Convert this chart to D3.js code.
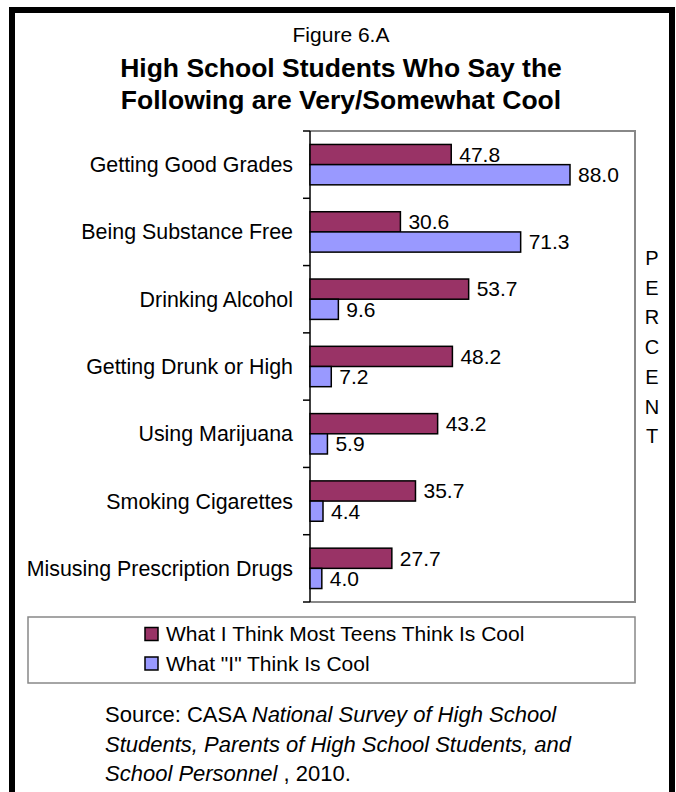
<!DOCTYPE html>
<html>
<head>
<meta charset="utf-8">
<script src="https://cdn.jsdelivr.net/npm/d3@7"></script>
<style>
  body { margin: 0; background: #fff; }
  svg text { font-family: "Liberation Sans", Arial, sans-serif; fill: #000; }
</style>
</head>
<body>
<svg width="676" height="792"></svg>
<script>
// chart data
var categories = ["Getting Good Grades", "Being Substance Free", "Drinking Alcohol",
  "Getting Drunk or High", "Using Marijuana", "Smoking Cigarettes", "Misusing Prescription Drugs"];
var seriesNames = ["What I Think Most Teens Think Is Cool", "What \"I\" Think Is Cool"];
var teensValues = [47.8, 30.6, 53.7, 48.2, 43.2, 35.7, 27.7];
var selfValues = [88.0, 71.3, 9.6, 7.2, 5.9, 4.4, 4.0];
var seriesColors = ["#993366", "#9999ff"];
var axisLetters = "PERCENT".split("");

var svg = d3.select("svg");

// outer black frame (bottom runs off the page)
svg.append("rect")
    .attr("x", 12).attr("y", 10)
    .attr("width", 660).attr("height", 800)
    .attr("fill", "none").attr("stroke", "#000").attr("stroke-width", 6);

// titles
svg.append("text")
    .attr("x", 341).attr("y", 42)
    .attr("text-anchor", "middle")
    .style("font-size", "21px")
    .text("Figure 6.A");
svg.selectAll("text.title")
    .data(["High School Students Who Say the", "Following are Very/Somewhat Cool"])
  .enter().append("text")
    .attr("class", "title")
    .attr("x", 341)
    .attr("y", function(d, i) { return 77 + i * 32; })
    .attr("text-anchor", "middle")
    .style("font-size", "26.5px")
    .style("font-weight", "bold")
    .text(function(d) { return d; });

// plot area
var plot = {left: 310, right: 635, top: 131, bottom: 602};

var x = d3.scaleLinear()
    .domain([0, 110])
    .range([plot.left, plot.right]);

var y = d3.scaleBand()
    .domain(categories)
    .range([plot.top, plot.bottom])
    .paddingInner(0.4)
    .paddingOuter(0.2);

var ySub = d3.scaleBand()
    .domain([0, 1])
    .range([0, y.bandwidth()]);

// gray frame on top, right and bottom
svg.append("path")
    .attr("d", "M" + plot.left + "," + plot.top + "H" + plot.right + "V" + plot.bottom + "H" + plot.left)
    .attr("fill", "none").attr("stroke", "#888").attr("stroke-width", 2);

// category axis with ticks between groups
var tickYs = d3.range(categories.length + 1).map(function(i) { return plot.top + i * y.step(); });
svg.append("line")
    .attr("x1", plot.left).attr("x2", plot.left)
    .attr("y1", plot.top).attr("y2", plot.bottom)
    .attr("stroke", "#000").attr("stroke-width", 1.5);
svg.selectAll("line.tick")
    .data(tickYs)
  .enter().append("line")
    .attr("class", "tick")
    .attr("x1", plot.left - 7).attr("x2", plot.left)
    .attr("y1", function(d) { return d; }).attr("y2", function(d) { return d; })
    .attr("stroke", "#000").attr("stroke-width", 1.5);

svg.selectAll("text.cat")
    .data(categories)
  .enter().append("text")
    .attr("class", "cat")
    .attr("x", 293)
    .attr("y", function(d) { return y(d) + y.bandwidth() / 2; })
    .attr("dy", "0.35em")
    .attr("text-anchor", "end")
    .style("font-size", "21.4px")
    .text(function(d) { return d; });

// bars
var rows = [];
categories.forEach(function(c, i) {
  rows.push({cat: c, s: 0, v: teensValues[i]});
  rows.push({cat: c, s: 1, v: selfValues[i]});
});

var bar = svg.selectAll("g.bar")
    .data(rows)
  .enter().append("g")
    .attr("class", "bar")
    .attr("transform", function(d) { return "translate(0," + (y(d.cat) + ySub(d.s)) + ")"; });

bar.append("rect")
    .attr("x", x(0))
    .attr("width", function(d) { return x(d.v) - x(0); })
    .attr("height", ySub.bandwidth())
    .attr("fill", function(d) { return seriesColors[d.s]; })
    .attr("stroke", "#000").attr("stroke-width", 1.5);

bar.append("text")
    .attr("x", function(d) { return x(d.v) + 8; })
    .attr("y", ySub.bandwidth() / 2)
    .attr("dy", "0.35em")
    .style("font-size", "21px")
    .text(function(d) { return d3.format(".1f")(d.v); });

// vertical axis title
svg.selectAll("text.pct")
    .data(axisLetters)
  .enter().append("text")
    .attr("class", "pct")
    .attr("x", 652)
    .attr("y", function(d, i) { return 258 + i * 29.7; })
    .attr("dy", "0.35em")
    .attr("text-anchor", "middle")
    .style("font-size", "20px")
    .text(function(d) { return d; });

// legend
svg.append("rect")
    .attr("x", 28).attr("y", 617)
    .attr("width", 607).attr("height", 66)
    .attr("fill", "none").attr("stroke", "#888").attr("stroke-width", 1.5);

var legend = svg.selectAll("g.legend")
    .data(seriesNames)
  .enter().append("g")
    .attr("class", "legend")
    .attr("transform", function(d, i) { return "translate(145," + (634 + i * 29.5) + ")"; });

legend.append("rect")
    .attr("y", -6.5)
    .attr("width", 13).attr("height", 13)
    .attr("fill", function(d, i) { return seriesColors[i]; })
    .attr("stroke", "#000").attr("stroke-width", 1.5);

legend.append("text")
    .attr("x", 21)
    .attr("dy", "0.35em")
    .style("font-size", "21px")
    .text(function(d) { return d; });

// source note
var source = svg.append("text")
    .attr("x", 105)
    .style("font-size", "22px");
source.append("tspan").attr("x", 105).attr("y", 722).text("Source: CASA ");
source.append("tspan").style("font-style", "italic").text("National Survey of High School");
source.append("tspan").attr("x", 105).attr("y", 752).style("font-style", "italic")
    .text("Students, Parents of High School Students, and");
source.append("tspan").attr("x", 105).attr("y", 781).style("font-style", "italic")
    .text("School Personnel");
source.append("tspan").text(" , 2010.");
</script>
</body>
</html>
